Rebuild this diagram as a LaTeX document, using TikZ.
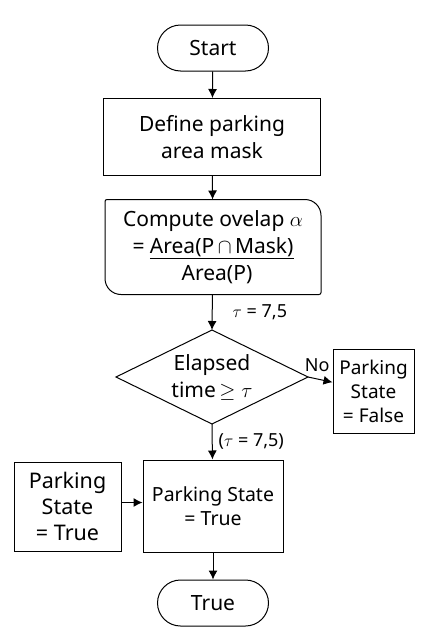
\documentclass[tikz,border=0pt]{standalone}
\usepackage{fontspec}
\setmainfont{Noto Sans}
\usetikzlibrary{arrows.meta}
\tikzset{
  box/.style={draw, line width=1pt, align=center, inner sep=0pt},
  term/.style={box, rounded corners=23pt, minimum width=111pt, minimum height=46pt, font=\fontsize{21}{24}\selectfont},
  flow/.style={line width=1pt, -{Latex[length=9pt,width=9pt]}},
  lbl/.style={inner sep=1pt, font=\fontsize{18}{20}\selectfont}
}
\begin{document}
\begin{tikzpicture}[x=1pt,y=-1pt]
\useasboundingbox (0,0) rectangle (427,640);
% main column
\node[term] (start) at (213,48) {Start};
\node[box, minimum width=217pt, minimum height=77pt, font=\fontsize{21}{27}\selectfont] (mask) at (212,137) {Define parking\\area mask};
\node[box, draw=none, minimum width=215pt, minimum height=94pt, font=\fontsize{21}{27}\selectfont] (overlap) at (213,247) {Compute ovelap $\alpha$\\= \underline{Area(P\,$\cap$\,Mask)}\\\hspace*{8pt}Area(P)};
\draw[line width=1pt] (overlap.west) [rounded corners=2pt] |- (overlap.north) [rounded corners=16pt] -| (overlap.east) [rounded corners=2pt] |- (overlap.south) [rounded corners=16pt] -| (overlap.west);
\node[box, draw=none, minimum width=191pt, minimum height=93pt, font=\fontsize{21}{27}\selectfont] (elapsed) at (212,377) {Elapsed\\time\,$\geq\tau$};
\draw[line width=1pt, line join=miter] (elapsed.north) -- (elapsed.east) -- (elapsed.south) -- (elapsed.west) -- cycle;
\node[box, minimum width=81pt, minimum height=84pt, font=\fontsize{19}{24}\selectfont] (false) at (373.5,391) {Parking\\State\\= False};
\node[box, minimum width=140pt, minimum height=92pt, font=\fontsize{19.5}{24}\selectfont] (state) at (213,506) {Parking State\\= True};
\node[box, minimum width=107pt, minimum height=89pt, font=\fontsize{21.5}{26}\selectfont] (given) at (67.5,506.5) {Parking\\State\\= True};
\node[term] (true) at (213,603) {True};
% connectors
\draw[flow] (start) -- (mask);
\draw[flow] (mask) -- (overlap);
\draw[flow] (overlap) -- node[lbl, right=19pt] {$\tau$ = 7,5} (elapsed.north);
\draw[flow] (elapsed.east) -- node[lbl, above=6pt, xshift=-3pt] {No} (false);
\draw[flow] (elapsed.south) -- node[lbl, right=5pt] {($\tau$ = 7,5)} (state);
\draw[flow] (given.east) ++(0,-4) coordinate (g) -- (g -| state.west);
\draw[flow] (state) -- (true);
\end{tikzpicture}
\end{document}
